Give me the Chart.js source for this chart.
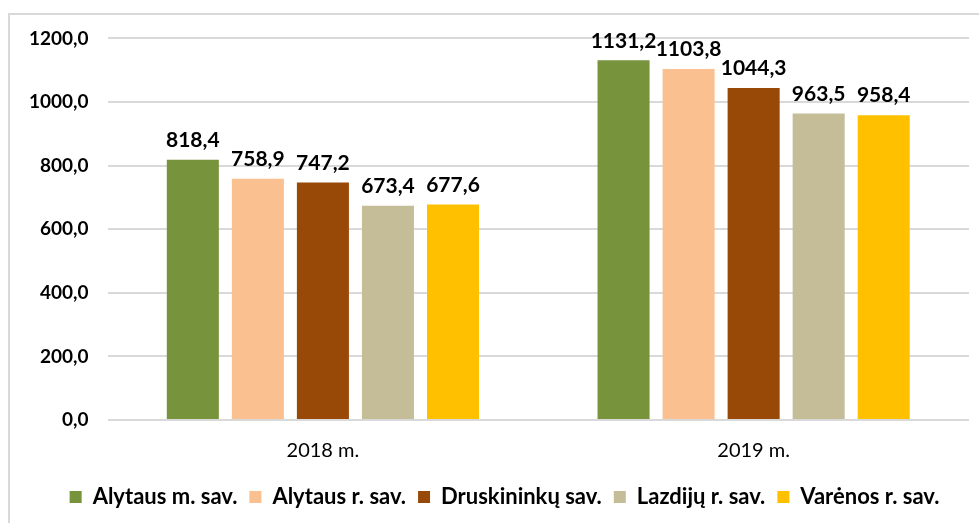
<!DOCTYPE html>
<html>
<head>
<meta charset="utf-8">
<script src="https://cdn.jsdelivr.net/npm/chart.js@4"></script>
<style>
  html, body { margin: 0; padding: 0; background: #fff; overflow: hidden; }
  #box {
    position: absolute; left: 8px; top: 13px; right: 0; bottom: 0;
    border-top: 2px solid #d9d9d9; border-left: 2px solid #d9d9d9;
  }
  #wrap { position: absolute; left: 0; top: -7px; width: 969px; height: 510px; }
</style>
</head>
<body>
<div id="box"><div id="wrap"><canvas id="myChart"></canvas></div></div>
<script>
// duomenys
const years = ['2018 m.', '2019 m.'];
const names = ['Alytaus m. sav.', 'Alytaus r. sav.', 'Druskininkų sav.', 'Lazdijų r. sav.', 'Varėnos r. sav.'];
const alytausM = [818.4, 1131.2];
const alytausR = [758.9, 1103.8];
const druskininkai = [747.2, 1044.3];
const lazdijai = [673.4, 963.5];
const varena = [677.6, 958.4];
const colors = ['#77933C', '#FAC090', '#984807', '#C4BD97', '#FFC000'];
const yTicks = [0, 200, 400, 600, 800, 1000, 1200];

const fmt = v => v.toFixed(1).replace('.', ',');
const FONT = 'Lato, "Open Sans", sans-serif';

// reiksmes virs stulpeliu
const valueLabels = {
    id: 'valueLabels',
    afterDatasetsDraw(chart) {
        const ctx = chart.ctx;
        ctx.save();
        ctx.font = 'bold 21px ' + FONT;
        ctx.fillStyle = '#000';
        ctx.textAlign = 'center';
        ctx.textBaseline = 'bottom';
        chart.data.datasets.forEach((ds, i) => {
            chart.getDatasetMeta(i).data.forEach((bar, j) => {
                ctx.fillText(fmt(ds.data[j]), bar.x, bar.y - 9);
            });
        });
        ctx.restore();
    }
};

// legenda truputi i desine
const legendShift = {
    id: 'legendShift',
    afterLayout(chart) {
        chart.legend.left += 15;
        chart.legend.right += 15;
    }
};

const series = [alytausM, alytausR, druskininkai, lazdijai, varena];

const data = {
    labels: years,
    datasets: series.map((s, i) => ({
        label: names[i],
        data: s,
        backgroundColor: colors[i],
        borderWidth: 0,
        barPercentage: 0.8,
        categoryPercentage: 0.755
    }))
};

const config = {
    type: 'bar',
    data: data,
    options: {
        responsive: true,
        maintainAspectRatio: false,
        animation: false,
        layout: { padding: { left: 0, right: 10, top: 0, bottom: 0 } },
        scales: {
            x: {
                grid: { display: false },
                border: { display: false },
                ticks: { color: '#000', font: { family: FONT, size: 20 }, padding: 11 }
            },
            y: {
                min: 0,
                max: 1200,
                afterBuildTicks: axis => { axis.ticks = yTicks.map(v => ({ value: v })); },
                grid: { color: '#d9d9d9', lineWidth: 2, drawTicks: false },
                border: { display: false },
                ticks: {
                    color: '#000',
                    font: { family: FONT, size: 19, weight: 'bold' },
                    padding: 19,
                    callback: v => fmt(v)
                }
            }
        },
        plugins: {
            tooltip: { enabled: false },
            legend: {
                position: 'bottom',
                labels: {
                    color: '#000',
                    font: { family: FONT, size: 22, weight: 'bold' },
                    boxWidth: 12,
                    boxHeight: 12,
                    padding: 12
                }
            }
        }
    },
    plugins: [valueLabels, legendShift]
};

const myChart = new Chart(document.getElementById('myChart'), config);
</script>
</body>
</html>
